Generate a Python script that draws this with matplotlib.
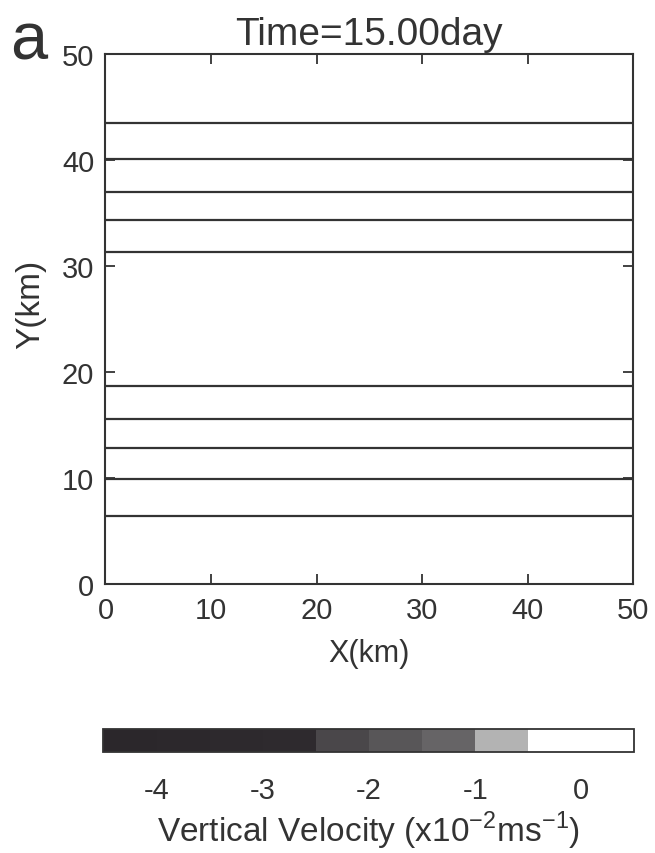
import matplotlib
matplotlib.use("Agg")
import matplotlib.pyplot as plt
from matplotlib.colors import ListedColormap, BoundaryNorm
from matplotlib.cm import ScalarMappable

plt.rcParams['font.family'] = ['Liberation Sans', 'DejaVu Sans']

# Contour levels of the vertical-velocity field (Y positions in km)
contour_y = [43.45, 40.05, 37.0, 34.3, 31.3, 18.7, 15.6, 12.8, 9.9, 6.45]
x_range = [0, 50]

x_ticks = [0, 10, 20, 30, 40, 50]
y_ticks = [0, 10, 20, 30, 40, 50]

# Colour scale for vertical velocity (x10^-2 m/s)
cbar_bounds = [-4.5, -4.0, -3.5, -3.0, -2.5, -2.0, -1.5, -1.0, -0.5, 0.5]
cbar_colors = ['#2b272b', '#2c282c', '#2d292d', '#2e2a2e',
               '#4a474a', '#585658', '#666466', '#b3b3b3', '#ffffff']
cbar_ticks = [-4, -3, -2, -1, 0]

text_color = '#333333'
line_color = '#333333'

fig = plt.figure(figsize=(6.55, 8.54), dpi=100)
ax = fig.add_axes([0.161, 0.315, 0.806, 0.6206])

ax.hlines(contour_y, x_range[0], x_range[1], colors=line_color, linewidth=1.6)

ax.set_xlim(0, 50)
ax.set_ylim(0, 50)
ax.set_xticks(x_ticks)
ax.set_yticks(y_ticks)
ax.tick_params(direction='in', length=7, width=1.3, colors=line_color,
               labelcolor=text_color, labelsize=21, top=True, right=True)
ax.tick_params(axis='x', pad=9)
ax.tick_params(axis='y', pad=8)
for s in ax.spines.values():
    s.set_linewidth(1.5)
    s.set_color(line_color)

ax.set_xlabel('X(km)', fontsize=22, color=text_color, labelpad=10)
ax.set_ylabel('Y(km)', fontsize=24, color=text_color, labelpad=11, y=0.53)
ax.set_title('Time=15.00day', fontsize=28, color=text_color, pad=7)
fig.text(0.016, 0.930, 'a', fontsize=48, color=text_color, ha='left', va='baseline')

# Colour bar
cax = fig.add_axes([0.158, 0.1183, 0.8107, 0.0274])
cmap = ListedColormap(cbar_colors)
norm = BoundaryNorm(cbar_bounds, cmap.N)
sm = ScalarMappable(norm=norm, cmap=cmap)
cb = fig.colorbar(sm, cax=cax, orientation='horizontal', ticks=cbar_ticks,
                  spacing='proportional')
cb.ax.minorticks_off()
cb.ax.set_xticklabels([str(t) for t in cbar_ticks])
cb.ax.tick_params(length=0, labelsize=21, labelcolor=text_color, pad=17)
cb.outline.set_linewidth(1.3)
cb.outline.set_edgecolor(line_color)
cb.set_label('Vertical Velocity (x10$^{\\mathregular{-2}}$ms$^{\\mathregular{-1}}$)',
             fontsize=24, color=text_color, labelpad=4)

fig.savefig('out.png', dpi=100, facecolor='white')
